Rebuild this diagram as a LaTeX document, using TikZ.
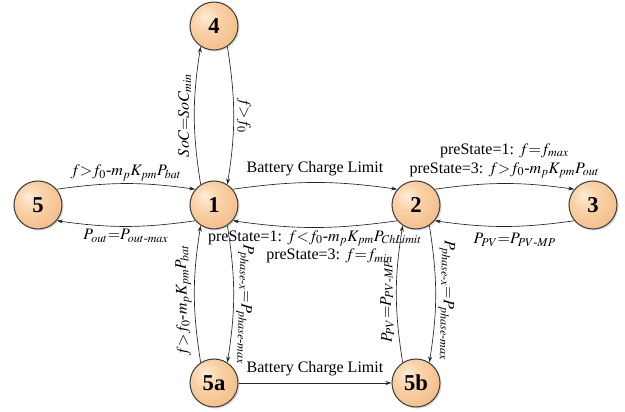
\documentclass[tikz,border=0pt]{standalone}
\usepackage{amsmath}
\usepackage{mathptmx}
\usepackage[no-math]{fontspec}
\setmainfont{Liberation Serif}
\usetikzlibrary{arrows.meta,shadows}
\definecolor{peachA}{RGB}{254,236,214}
\definecolor{peachB}{RGB}{250,210,168}
\definecolor{peachC}{RGB}{242,188,136}
\definecolor{peachD}{RGB}{200,146,96}
\pgfdeclareradialshading{peachball}{\pgfpoint{-10bp}{10bp}}{%
  color(0bp)=(peachA); color(14bp)=(peachB); color(34bp)=(peachC);
  color(52bp)=(peachD); color(70bp)=(peachD)}

\begin{document}
\begin{tikzpicture}[
  x=0.75pt, y=0.75pt,
  >={Stealth[length=4.5pt,width=3pt]},
  state/.style={circle, draw=black!75, line width=0.8pt, minimum size=36pt,
    inner sep=0pt, shading=peachball,
    drop shadow={opacity=0.25, shadow xshift=1.2pt, shadow yshift=-1.2pt},
    font=\fontsize{17}{20}\selectfont\bfseries},
  lbl/.style={font=\fontsize{12}{14}\selectfont, inner sep=2pt},
  vlbl/.style={lbl, sloped, allow upside down, above},
  tr/.style={->, draw=black!85, line width=0.5pt}]
\useasboundingbox (0,0) rectangle (625,411);

% ===== states =====
\node[state] (n4)  at (214,385) {4};
\node[state] (n5)  at (38,206)  {5};
\node[state] (n1)  at (214,206) {1};
\node[state] (n2)  at (416,206) {2};
\node[state] (n3)  at (593,206) {3};
\node[state] (n5a) at (214,28)  {5a};
\node[state] (n5b) at (416,28)  {5b};

% ===== row 5 -- 1 -- 2 -- 3 =====
\draw[tr] (n5.40) to[bend left=8]
  node[lbl, above] {$f{>}f_0$-$m_pK_{pm}P_{bat}$} (n1.140);
\draw[tr] (n1.-140) to[bend left=8]
  node[lbl, below] {$P_{out}{=}P_{out\text{-}max}$} (n5.-40);
\draw[tr] (n1.40) to[bend left=8]
  node[lbl, above=3pt] {Battery Charge Limit} (n2.140);
\draw[tr] (n2.-140) to[bend left=8]
  node[lbl, below=0pt, align=center]
  {preState=1: $f{<}f_0$-$m_pK_{pm}P_{ChLimit}$\\
   \hspace*{22pt}preState=3: $f{=}f_{min}$} (n1.-40);
\draw[tr] (n2.40) to[bend left=8]
  node[lbl, above=2pt, align=center]
  {preState=1: $f{=}f_{max}$\\preState=3: $f{>}f_0$-$m_pK_{pm}P_{out}$} (n3.140);
\draw[tr] (n3.-140) to[bend left=8]
  node[lbl, below=3pt, pos=0.42] {$P_{PV}{=}P_{PV\text{-}MP}$} (n2.-40);

% ===== column 1: 4 and 5a =====
\draw[tr] (n1.123) to[bend left=9]
  node[vlbl] {$SoC{=}SoC_{min}$} (n4.-123);
\draw[tr] (n4.-57) to[bend left=9]
  node[vlbl] {$f{>}f_0$} (n1.57);
\draw[tr] (n5a.123) to[bend left=9]
  node[vlbl, pos=0.45] {$f{>}f_0$-$m_pK_{pm}P_{bat}$} (n1.-123);
\draw[tr] (n1.-57) to[bend left=9]
  node[vlbl, pos=0.58] {$P_{phase\text{-}x}{=}P_{phase\text{-}max}$} (n5a.57);

% ===== column 2: 5b =====
\draw[tr] (n5b.123) to[bend left=9]
  node[vlbl, pos=0.44] {$P_{PV}{=}P_{PV\text{-}MP}$} (n2.-123);
\draw[tr] (n2.-57) to[bend left=9]
  node[vlbl, pos=0.55] {$P_{phase\text{-}x}{=}P_{phase\text{-}max}$} (n5b.57);
\draw[tr] (n5a) -- node[lbl, above=3pt] {Battery Charge Limit} (n5b);

\end{tikzpicture}
\end{document}
